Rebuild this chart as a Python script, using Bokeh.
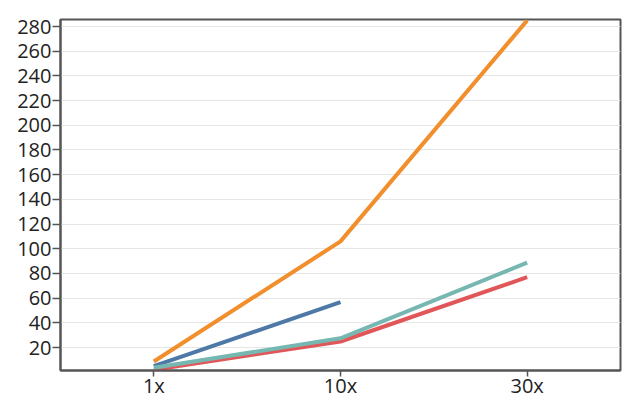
from bokeh.plotting import figure
from bokeh.models import Range1d, FactorRange, FixedTicker
from bokeh.embed import file_html
from bokeh.resources import INLINE

categories = ["1x", "10x", "30x"]
orange_vals = [8.7, 106, 285]
blue_cats = ["1x", "10x"]
blue_vals = [5, 56.7]
teal_vals = [3.6, 27.5, 88.8]
red_vals = [2, 24.9, 77]
y_ticks = list(range(20, 281, 20))

p = figure(x_range=FactorRange(*categories, range_padding=0),
           y_range=Range1d(1.4, 285.7),
           frame_width=560, frame_height=351,
           min_border_left=60, min_border_top=19, min_border_right=12,
           min_border_bottom=22,
           output_backend="svg", toolbar_location=None)

p.line(categories, orange_vals, line_color="#F28E2B", line_width=4)
p.line(blue_cats, blue_vals, line_color="#4E79A7", line_width=4)
p.line(categories, red_vals, line_color="#E15759", line_width=4)
p.line(categories, teal_vals, line_color="#76B7B2", line_width=4)

p.outline_line_color = "#555555"
p.outline_line_width = 2
p.outline_line_alpha = 1

p.xgrid.grid_line_color = None
p.ygrid.grid_line_color = "#e6e6e6"
p.ygrid.grid_line_width = 1
p.yaxis.ticker = FixedTicker(ticks=y_ticks)

for ax in (p.xaxis[0], p.yaxis[0]):
    ax.axis_line_color = "#555555"
    ax.axis_line_width = 2
    ax.major_tick_line_color = "#555555"
    ax.major_tick_line_width = 1.5
    ax.major_tick_in = 0
    ax.minor_tick_line_color = None
    ax.major_label_text_font = "Open Sans"
    ax.major_label_text_font_size = "20px"
    ax.major_label_text_color = "#222222"

p.xaxis[0].major_tick_out = 6
p.xaxis[0].major_label_standoff = -5
p.yaxis[0].major_tick_out = 8
p.yaxis[0].major_label_standoff = 1

open("out.html", "w").write(file_html(p, INLINE))
